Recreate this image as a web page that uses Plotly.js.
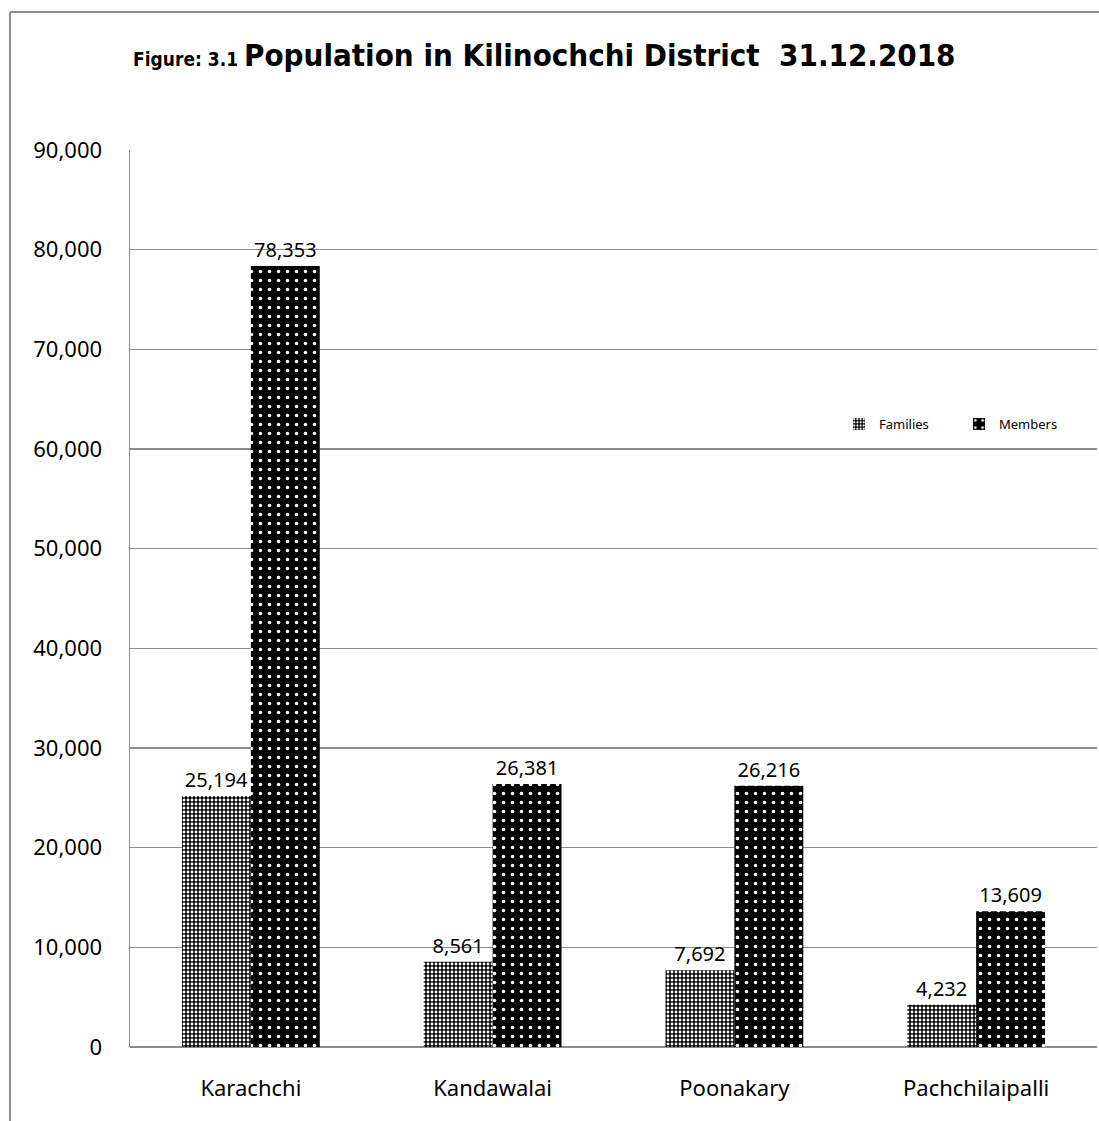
<!DOCTYPE html>
<html><head><meta charset="utf-8">
<script src="https://cdn.plot.ly/plotly-3.0.1.min.js"></script>
<style>html,body{margin:0;padding:0;background:#fff}#chart{width:1099px;height:1121px}</style>
</head><body><div id="chart"></div>
<script>
const categories = ["Karachchi", "Kandawalai", "Poonakary", "Pachchilaipalli"];
const families = [25194, 8561, 7692, 4232];
const members = [78353, 26381, 26216, 13609];
const tickVals = [0, 10000, 20000, 30000, 40000, 50000, 60000, 70000, 80000, 90000];
const tickText = ["0", "10,000", "20,000", "30,000", "40,000", "50,000", "60,000", "70,000", "80,000", "90,000"];

const fmt = v => v.toLocaleString("en-US");
const baseFont = "Noto Sans, Open Sans, sans-serif";

const traces = [
  {
    type: "bar", name: "Families", x: categories, y: families,
    text: families.map(fmt), textposition: "outside", cliponaxis: false,
    textfont: {family: baseFont, size: 20, color: "#000"},
    marker: {color: "#000", line: {width: 0},
      pattern: {shape: ".", fgcolor: "#fff", bgcolor: "#000", size: 4, solidity: 0.4, fillmode: "replace"}},
    hoverinfo: "skip"
  },
  {
    type: "bar", name: "Members", x: categories, y: members,
    text: members.map(fmt), textposition: "outside", cliponaxis: false,
    textfont: {family: baseFont, size: 20, color: "#000"},
    marker: {color: "#000", line: {width: 0},
      pattern: {shape: ".", fgcolor: "#fff", bgcolor: "#000", size: 9, solidity: 0.12, fillmode: "replace"}},
    hoverinfo: "skip"
  }
];

const layout = {
  width: 1099, height: 1121,
  margin: {l: 130, r: 2, t: 150, b: 74},
  paper_bgcolor: "#fff", plot_bgcolor: "#fff",
  barmode: "group", bargap: 0.43, bargroupgap: 0,
  showlegend: true,
  font: {family: baseFont, color: "#000"},
  title: {
    text: "<b><span style='font-size:19px'>Figure: 3.1 </span>Population in Kilinochchi District  31.12.2018</b>",
    font: {family: "Liberation Sans Narrow, DejaVu Sans Condensed, sans-serif", size: 31, color: "#000"},
    xref: "container", yref: "container", x: 133/1099, xanchor: "left", y: 1 - 55/1121, yanchor: "middle"
  },
  legend: {
    orientation: "h", x: (839-130)/967, xanchor: "left", y: (1047-424)/897, yanchor: "middle",
    font: {family: baseFont, size: 13, color: "#000"}, bgcolor: "rgba(0,0,0,0)",
    itemwidth: 30, entrywidth: 75, entrywidthmode: "pixels", traceorder: "normal"
  },
  xaxis: {
    type: "category", showgrid: false, ticks: "", showline: false,
    tickfont: {family: baseFont, size: 22, color: "#000"}, ticklabelstandoff: 26
  },
  yaxis: {
    range: [0, 90000], tickvals: tickVals, ticktext: tickText,
    showgrid: true, gridcolor: "#8c8c8c", gridwidth: 1.5,
    zeroline: true, zerolinecolor: "#8c8c8c", zerolinewidth: 1.5,
    showline: true, linecolor: "#8c8c8c", linewidth: 1.5,
    ticks: "", tickfont: {family: baseFont, size: 22, color: "#000"}, ticklabelstandoff: 22
  },
  shapes: [
    {type: "line", xref: "paper", yref: "paper", x0: -120/967, x1: 1.01, y0: 1035/897, y1: 1035/897, line: {color: "#8c8c8c", width: 2}},
    {type: "line", xref: "paper", yref: "paper", x0: -120/967, x1: -120/967, y0: 1035/897, y1: -80/897, line: {color: "#8c8c8c", width: 2}}
  ]
};

Plotly.newPlot("chart", traces, layout, {displayModeBar: false, staticPlot: true});
</script></body></html>
